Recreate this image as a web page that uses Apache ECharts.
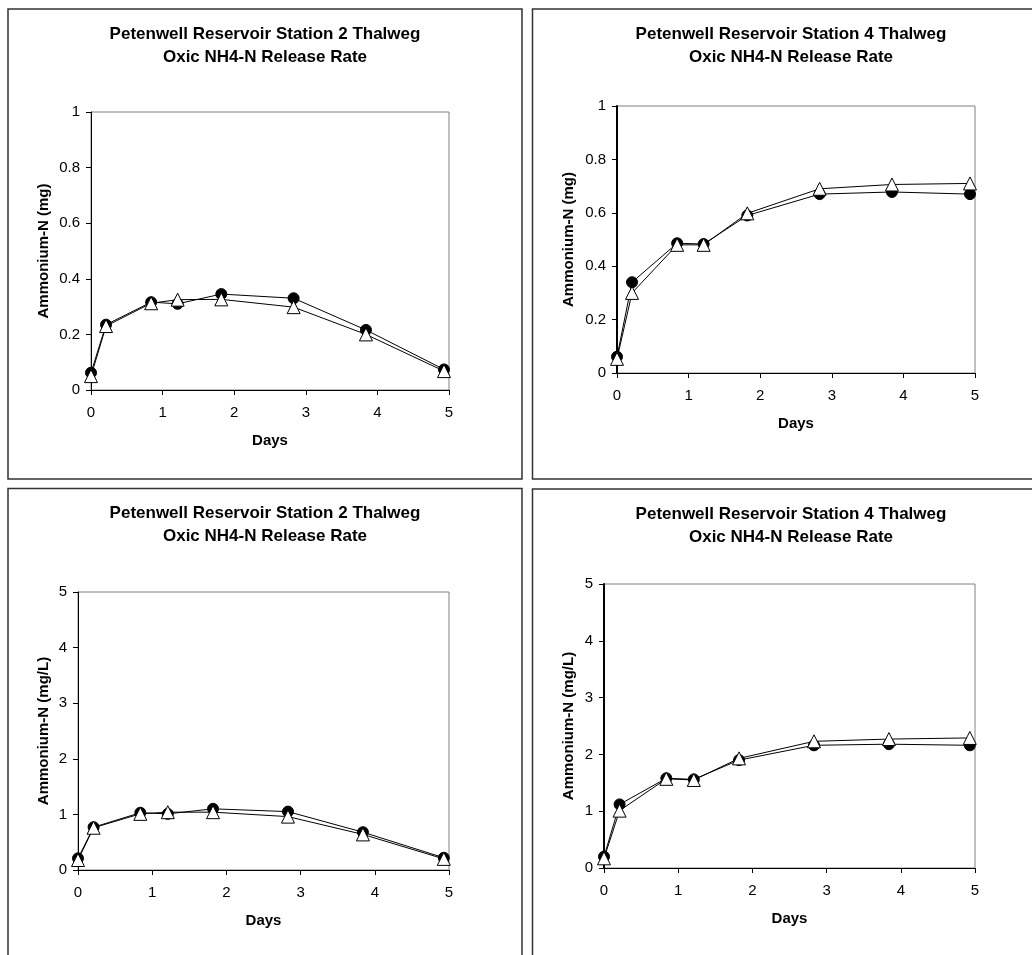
<!DOCTYPE html>
<html><head><meta charset="utf-8">
<script src="https://cdn.jsdelivr.net/npm/echarts@6/dist/echarts.min.js"></script>
<style>html,body{margin:0;padding:0;background:#fff}#c{width:1032px;height:955px}</style>
</head><body><div id="c"></div>
<script>
// Shared sampling times (days)
const days = [0, 0.21, 0.84, 1.21, 1.82, 2.83, 3.84, 4.93];
// Station 2, mass (mg)
const st2MassCircle   = [0.062, 0.235, 0.316, 0.310, 0.345, 0.330, 0.216, 0.074];
const st2MassTriangle = [0.050, 0.230, 0.312, 0.325, 0.326, 0.298, 0.200, 0.068];
// Station 4, mass (mg)
const st4MassCircle   = [0.061, 0.340, 0.486, 0.483, 0.590, 0.670, 0.678, 0.670];
const st4MassTriangle = [0.053, 0.300, 0.480, 0.480, 0.598, 0.690, 0.706, 0.710];
// Station 2, concentration (mg/L)
const st2ConcCircle   = [0.21, 0.77, 1.03, 1.01, 1.10, 1.05, 0.68, 0.22];
const st2ConcTriangle = [0.18, 0.76, 1.01, 1.04, 1.04, 0.96, 0.64, 0.20];
// Station 4, concentration (mg/L)
const st4ConcCircle   = [0.20, 1.12, 1.58, 1.56, 1.90, 2.16, 2.18, 2.16];
const st4ConcTriangle = [0.17, 1.01, 1.57, 1.55, 1.93, 2.23, 2.27, 2.29];

const titleSt2 = 'Petenwell Reservoir Station 2 Thalweg\nOxic NH4-N Release Rate';
const titleSt4 = 'Petenwell Reservoir Station 4 Thalweg\nOxic NH4-N Release Rate';
const yNameMass = 'Ammonium-N (mg)';
const yNameConc = 'Ammonium-N (mg/L)';
const xName = 'Days';
const xRange = [0, 5, 1];       // min, max, interval
const yRangeMass = [0, 1, 0.2];
const yRangeConc = [0, 5, 1];

const FONT = "'Liberation Sans', Arial, sans-serif";

const panels = [
  {title: titleSt2, yName: yNameMass, yr: yRangeMass, a: st2MassCircle, b: st2MassTriangle,
   grid: {left: 91, top: 112, width: 358, height: 278}, tx: 265, ty: 23, yGap: 40, axW: 1},
  {title: titleSt4, yName: yNameMass, yr: yRangeMass, a: st4MassCircle, b: st4MassTriangle,
   grid: {left: 617, top: 106, width: 358, height: 267}, tx: 791, ty: 23, yGap: 41, axW: 2},
  {title: titleSt2, yName: yNameConc, yr: yRangeConc, a: st2ConcCircle, b: st2ConcTriangle,
   grid: {left: 78, top: 592, width: 371, height: 278}, tx: 265, ty: 502, yGap: 27, axW: 1},
  {title: titleSt4, yName: yNameConc, yr: yRangeConc, a: st4ConcCircle, b: st4ConcTriangle,
   grid: {left: 604, top: 584, width: 371, height: 284}, tx: 791, ty: 503, yGap: 28, axW: 2}
];

const option = {
  animation: false,
  backgroundColor: '#fff',
  textStyle: {fontFamily: FONT},
  title: panels.map(p => ({
    text: p.title, left: p.tx, top: p.ty, textAlign: 'center', padding: 0,
    textStyle: {fontFamily: FONT, fontSize: 17, fontWeight: 'bold', color: '#000', lineHeight: 23}
  })),
  grid: panels.map(p => Object.assign({show: true, borderColor: '#808080', borderWidth: 1, backgroundColor: 'transparent'}, p.grid)),
  xAxis: panels.map((p, i) => ({
    type: 'value', gridIndex: i, min: xRange[0], max: xRange[1], interval: xRange[2],
    name: xName, nameLocation: 'middle', nameGap: 43,
    nameTextStyle: {fontFamily: FONT, fontSize: 15, fontWeight: 'bold', color: '#000'},
    axisLine: {show: true, onZero: false, lineStyle: {color: '#000', width: 1}},
    axisTick: {show: true, inside: false, length: 5, lineStyle: {color: '#000'}},
    axisLabel: {fontFamily: FONT, fontSize: 15, color: '#000', margin: 15},
    splitLine: {show: false}
  })),
  yAxis: panels.map((p, i) => ({
    type: 'value', gridIndex: i, min: p.yr[0], max: p.yr[1], interval: p.yr[2],
    name: p.yName, nameLocation: 'middle', nameGap: p.yGap,
    nameTextStyle: {fontFamily: FONT, fontSize: 15, fontWeight: 'bold', color: '#000'},
    axisLine: {show: true, onZero: false, lineStyle: {color: '#000', width: p.axW}},
    axisTick: {show: true, inside: false, length: 5, lineStyle: {color: '#000'}},
    axisLabel: {fontFamily: FONT, fontSize: 15, color: '#000', margin: 11},
    splitLine: {show: false}
  })),
  series: panels.flatMap((p, i) => [
    {type: 'line', xAxisIndex: i, yAxisIndex: i, data: days.map((d, k) => [d, p.a[k]]),
     symbol: 'circle', symbolSize: 11, itemStyle: {color: '#000', borderColor: '#000', borderWidth: 1},
     lineStyle: {color: '#000', width: 1}, z: 2},
    {type: 'line', xAxisIndex: i, yAxisIndex: i, data: days.map((d, k) => [d, p.b[k]]),
     symbol: 'triangle', symbolSize: 13, itemStyle: {color: '#fff', borderColor: '#000', borderWidth: 1},
     lineStyle: {color: '#000', width: 1}, z: 3}
  ]),
  graphic: [
    {type: 'rect', shape: {x: 8, y: 9, width: 514, height: 470}, style: {fill: 'none', stroke: '#333', lineWidth: 1.5}, silent: true},
    {type: 'rect', shape: {x: 532.5, y: 9, width: 520, height: 470}, style: {fill: 'none', stroke: '#333', lineWidth: 1.5}, silent: true},
    {type: 'rect', shape: {x: 8, y: 488.5, width: 514, height: 500}, style: {fill: 'none', stroke: '#333', lineWidth: 1.5}, silent: true},
    {type: 'rect', shape: {x: 532.5, y: 489, width: 520, height: 500}, style: {fill: 'none', stroke: '#333', lineWidth: 1.5}, silent: true}
  ]
};

const chart = echarts.init(document.getElementById('c'), null, {renderer: 'canvas'});
chart.setOption(option);
</script>
</body></html>
